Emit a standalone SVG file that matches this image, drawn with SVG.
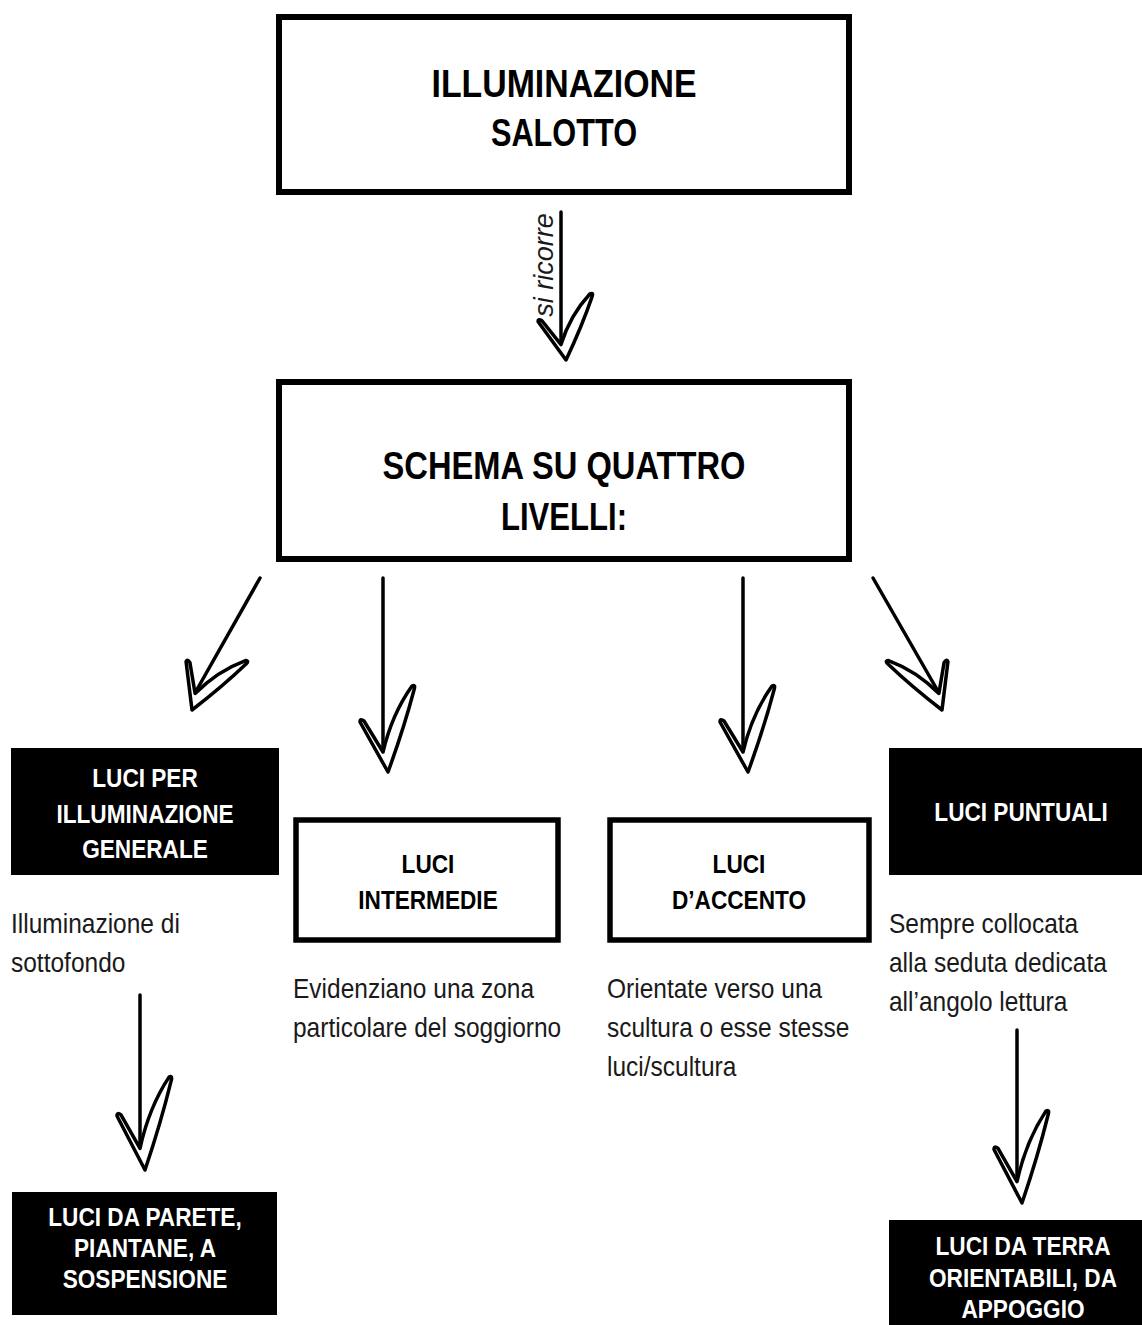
<svg xmlns="http://www.w3.org/2000/svg" xmlns:xlink="http://www.w3.org/1999/xlink" width="1142" height="1325" viewBox="0 0 1142 1325">
<style>
.box{fill:#fff;stroke:#000;stroke-width:5.5}
.blk{fill:#000}
.t{font-family:"Liberation Sans",Arial,sans-serif;font-weight:bold;text-anchor:middle}
.tt{font-size:38px;fill:#000}
.nb{font-size:26px;fill:#fff}
.nw{font-size:26px;fill:#000}
.d{font-family:"Liberation Sans",Arial,sans-serif;font-size:28.5px;fill:#1a1a1a}
.lbl{font-family:"Liberation Sans",Arial,sans-serif;font-size:27px;font-style:italic;fill:#1a1a1a;text-anchor:middle}
.ln{stroke:#000;stroke-width:3.5;fill:none;stroke-linecap:round}
.hd{fill:#fff;stroke:#000;stroke-width:3.5;stroke-linejoin:round}
</style>
<defs>
<path id="head" vector-effect="non-scaling-stroke" d="M0,0 L-28,-50 Q-28,-54 -24,-51 L-5,-20 Q4,-58 24,-86 Q28,-88 26,-82 Q16,-44 0,0 Z"/>
</defs>
<rect width="1142" height="1325" fill="#fff"/>

<g id="connectors">
  <line class="ln" x1="561" y1="212" x2="561" y2="345"/>
  <use xlink:href="#head" class="hd" transform="translate(566,360) scale(1,0.77)"/>
  <text class="lbl" transform="translate(553,265) rotate(-90)">si ricorre</text>

  <line class="ln" x1="260" y1="578" x2="195" y2="693"/>
  <use xlink:href="#head" class="hd" transform="translate(192,710) rotate(28) scale(1,0.8)"/>

  <line class="ln" x1="383" y1="578" x2="383" y2="752"/>
  <use xlink:href="#head" class="hd" transform="translate(388,772)"/>

  <line class="ln" x1="743" y1="578" x2="743" y2="752"/>
  <use xlink:href="#head" class="hd" transform="translate(748,772)"/>

  <line class="ln" x1="873" y1="578" x2="939" y2="693"/>
  <use xlink:href="#head" class="hd" transform="translate(942,710) rotate(-28) scale(-1,0.8)"/>

  <line class="ln" x1="140" y1="995" x2="140" y2="1148"/>
  <use xlink:href="#head" class="hd" transform="translate(145,1170) scale(1,1.08)"/>

  <line class="ln" x1="1017" y1="1030" x2="1017" y2="1181"/>
  <use xlink:href="#head" class="hd" transform="translate(1022,1203) scale(1,1.07)"/>
</g>

<g id="node-illuminazione-salotto">
  <rect class="box" x="279" y="17" width="570" height="175" style="stroke-width:6"/>
  <text class="t tt" x="564" y="97" textLength="265" lengthAdjust="spacingAndGlyphs">ILLUMINAZIONE</text>
  <text class="t tt" x="564" y="146" textLength="146" lengthAdjust="spacingAndGlyphs">SALOTTO</text>
</g>

<g id="node-schema">
  <rect class="box" x="279" y="382" width="570" height="177" style="stroke-width:6"/>
  <text class="t tt" x="564" y="479" textLength="363" lengthAdjust="spacingAndGlyphs">SCHEMA SU QUATTRO</text>
  <text class="t tt" x="564" y="530" textLength="126" lengthAdjust="spacingAndGlyphs">LIVELLI:</text>
</g>

<g id="node-luci-generale">
  <rect class="blk" x="11" y="748" width="268" height="127"/>
  <g transform="translate(145,0) scale(0.87,1)">
    <text class="t nb" x="0" y="787">LUCI PER</text>
    <text class="t nb" x="0" y="823">ILLUMINAZIONE</text>
    <text class="t nb" x="0" y="858">GENERALE</text>
  </g>
</g>

<g id="desc-generale">
  <g transform="translate(11,0) scale(0.86,1)">
    <text class="d" x="0" y="933">Illuminazione di</text>
    <text class="d" x="0" y="972">sottofondo</text>
  </g>
</g>

<g id="node-luci-intermedie">
  <rect class="box" x="296" y="820" width="262" height="120"/>
  <g transform="translate(428,0) scale(0.87,1)">
    <text class="t nw" x="0" y="873">LUCI</text>
    <text class="t nw" x="0" y="909">INTERMEDIE</text>
  </g>
</g>

<g id="desc-intermedie">
  <g transform="translate(293,0) scale(0.86,1)">
    <text class="d" x="0" y="998">Evidenziano una zona</text>
    <text class="d" x="0" y="1037">particolare del soggiorno</text>
  </g>
</g>

<g id="node-luci-accento">
  <rect class="box" x="610" y="820" width="259" height="120"/>
  <g transform="translate(739,0) scale(0.87,1)">
    <text class="t nw" x="0" y="873">LUCI</text>
    <text class="t nw" x="0" y="909">D’ACCENTO</text>
  </g>
</g>

<g id="desc-accento">
  <g transform="translate(607,0) scale(0.86,1)">
    <text class="d" x="0" y="998">Orientate verso una</text>
    <text class="d" x="0" y="1037">scultura o esse stesse</text>
    <text class="d" x="0" y="1076">luci/scultura</text>
  </g>
</g>

<g id="node-luci-puntuali">
  <rect class="blk" x="889" y="748" width="270" height="127"/>
  <g transform="translate(1021,0) scale(0.87,1)">
    <text class="t nb" x="0" y="821">LUCI PUNTUALI</text>
  </g>
</g>

<g id="desc-puntuali">
  <g transform="translate(889,0) scale(0.86,1)">
    <text class="d" x="0" y="933">Sempre collocata</text>
    <text class="d" x="0" y="972">alla seduta dedicata</text>
    <text class="d" x="0" y="1011">all’angolo lettura</text>
  </g>
</g>

<g id="node-luci-parete">
  <rect class="blk" x="12" y="1192" width="265" height="123"/>
  <g transform="translate(145,0) scale(0.87,1)">
    <text class="t nb" x="0" y="1226">LUCI DA PARETE,</text>
    <text class="t nb" x="0" y="1257">PIANTANE, A</text>
    <text class="t nb" x="0" y="1288">SOSPENSIONE</text>
  </g>
</g>

<g id="node-luci-terra">
  <rect class="blk" x="889" y="1220" width="270" height="110"/>
  <g transform="translate(1023,0) scale(0.87,1)">
    <text class="t nb" x="0" y="1255">LUCI DA TERRA</text>
    <text class="t nb" x="0" y="1287">ORIENTABILI, DA</text>
    <text class="t nb" x="0" y="1318">APPOGGIO</text>
  </g>
</g>
</svg>
